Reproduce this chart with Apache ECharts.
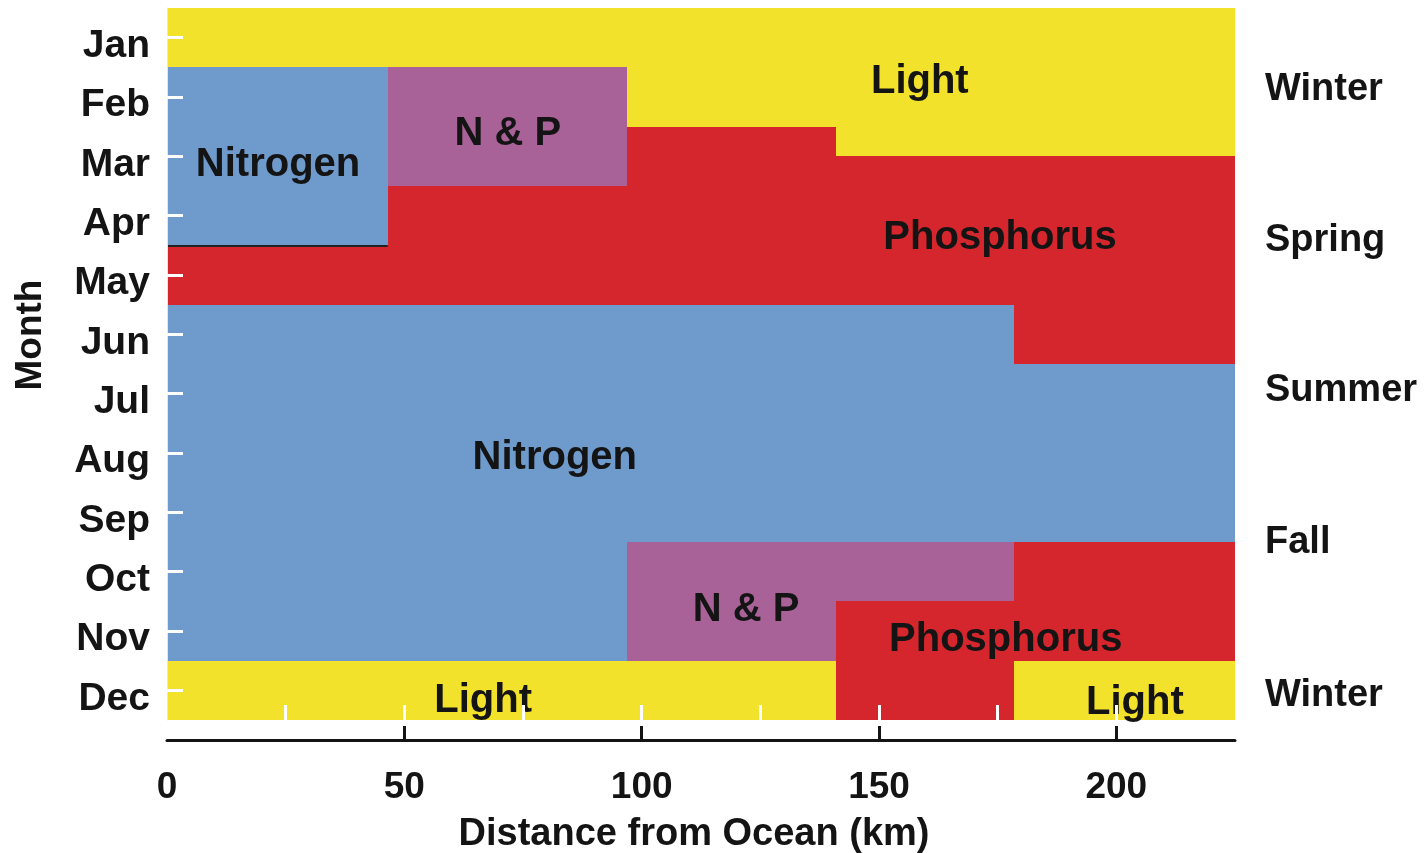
<!DOCTYPE html>
<html>
<head>
<meta charset="utf-8">
<script src="https://cdn.jsdelivr.net/npm/echarts@6/dist/echarts.min.js"></script>
<style>
html,body{margin:0;padding:0;background:#fff;}
#chart{width:1426px;height:853px;}
</style>
</head>
<body>
<div id="chart"></div>
<script>
// ---- data ----
const months = ['Jan','Feb','Mar','Apr','May','Jun','Jul','Aug','Sep','Oct','Nov','Dec'];
const xLabelTicks = [0, 50, 100, 150, 200];
const xMajorTicks = [50, 100, 150, 200];
const xInnerTicks = [25, 50, 75, 100, 125, 150, 175, 200];
const xMax = 225;

// blocks: [distance start km, distance end km, month start, month end] (months counted from start of Jan = 0)
const lightBlocks = [[0, 97, 0, 1], [97, 141, 0, 2], [141, 225, 0, 2.5], [0, 141, 11, 12], [178.5, 225, 11, 12]];
const nitrogenBlocks = [[0, 46.5, 1, 4], [0, 97, 5, 11], [97, 178.5, 5, 9], [178.5, 225, 6, 9]];
const npBlocks = [[46.5, 97, 1, 3], [97, 141, 9, 11], [141, 178.5, 9, 10]];
const phosphorusBlocks = [[0, 46.5, 4, 5], [46.5, 97, 3, 5], [97, 141, 2, 5], [141, 178.5, 2.5, 5],
  [178.5, 225, 2.5, 6], [141, 178.5, 10, 12], [178.5, 225, 9, 11]];
// dark edge under the early-spring nitrogen block: [start km, end km, month]
const nitrogenEdge = [0, 46.5, 4];

const regionNames = ['Light', 'Nitrogen', 'N & P', 'Phosphorus', 'Nitrogen', 'N & P', 'Phosphorus', 'Light', 'Light'];
const regionX = [158.6, 23.4, 71.8, 175.5, 81.7, 122, 176.7, 66.6, 203.9];
const regionY = [1.25, 2.64, 2.12, 3.87, 7.58, 10.15, 10.65, 11.68, 11.71];

const seasons = ['Winter', 'Spring', 'Summer', 'Fall', 'Winter'];
const seasonY = [1.37, 3.92, 6.44, 9.01, 11.59];

// ---- styles ----
const FONT = '"Liberation Sans", Arial, Helvetica, sans-serif';
const INK = '#141414';
const colors = {light: '#F2E22B', nitrogen: '#6F9ACC', np: '#A86298', phosphorus: '#D6262D'};

function renderBlock(params, api) {
  const p0 = api.coord([api.value(0), api.value(2)]);
  const p1 = api.coord([api.value(1), api.value(3)]);
  const x0 = Math.round(p0[0]), y0 = Math.round(p0[1]);
  const x1 = Math.round(p1[0]), y1 = Math.round(p1[1]);
  return {
    type: 'rect',
    shape: {x: x0, y: y0, width: x1 - x0, height: y1 - y0},
    style: {fill: api.visual('color')}
  };
}
function blockSeries(name, data, color) {
  return {
    type: 'custom', name: name, renderItem: renderBlock, data: data,
    xAxisIndex: 0, yAxisIndex: 0, itemStyle: {color: color, opacity: 1},
    encode: {x: [0, 1], y: [2, 3]}, silent: true, z: 2
  };
}
const nitrogen = blockSeries('Nitrogen', nitrogenBlocks, colors.nitrogen);
nitrogen.markLine = {
  silent: true, symbol: ['none', 'none'], animation: false,
  label: {show: false},
  lineStyle: {color: '#222222', width: 2, type: 'solid'},
  data: [[{coord: [nitrogenEdge[0], nitrogenEdge[2]]}, {coord: [nitrogenEdge[1], nitrogenEdge[2]]}]]
};

const chart = echarts.init(document.getElementById('chart'), null, {renderer: 'canvas'});
chart.setOption({
  animation: false,
  backgroundColor: '#ffffff',
  grid: {left: 167, top: 8, width: 1068, height: 712, containLabel: false, outerBoundsMode: 'none'},
  xAxis: [
    {
      type: 'value', min: 0, max: xMax, position: 'bottom', z: 10,
      splitLine: {show: false},
      axisLine: {show: false, onZero: false},
      axisTick: {show: true, inside: true, length: 15, customValues: xInnerTicks,
        lineStyle: {color: '#ffffff', width: 3}},
      axisLabel: {show: false}
    },
    {
      type: 'value', min: 0, max: xMax, position: 'bottom', offset: 20, z: 10,
      splitLine: {show: false},
      axisLine: {show: true, onZero: false, lineStyle: {color: INK, width: 3}},
      axisTick: {show: true, inside: true, length: 14, customValues: xMajorTicks,
        lineStyle: {color: INK, width: 3}},
      axisLabel: {show: true, customValues: xLabelTicks, margin: 29,
        color: INK, fontFamily: FONT, fontWeight: 'bold', fontSize: 37},
      name: 'Distance from Ocean (km)', nameLocation: 'middle', nameGap: 76,
      nameTextStyle: {color: INK, fontFamily: FONT, fontWeight: 'bold', fontSize: 38, padding: [0, 14, 0, 0]}
    }
  ],
  yAxis: [
    {
      type: 'value', min: 0, max: 12, inverse: true, show: false
    },
    {
      type: 'category', data: months, inverse: true, position: 'left', boundaryGap: true, z: 10,
      axisLine: {show: true, onZero: false, lineStyle: {color: '#e6e6e6', width: 1}},
      axisTick: {show: true, inside: true, alignWithLabel: true, length: 16,
        lineStyle: {color: '#ffffff', width: 3}},
      axisLabel: {show: true, margin: 17, verticalAlign: 'top', lineHeight: 17, color: INK, fontFamily: FONT,
        fontWeight: 'bold', fontSize: 39},
      splitLine: {show: false}
    }
  ],
  series: [
    blockSeries('Light', lightBlocks, colors.light),
    nitrogen,
    blockSeries('N & P', npBlocks, colors.np),
    blockSeries('Phosphorus', phosphorusBlocks, colors.phosphorus),
    {
      type: 'scatter', xAxisIndex: 0, yAxisIndex: 0, symbolSize: 0, silent: true, z: 5, clip: false,
      itemStyle: {opacity: 1},
      data: regionNames.map((n, i) => ({value: [regionX[i], regionY[i]], name: n})),
      label: {show: true, position: 'inside', formatter: p => p.name, opacity: 1,
        color: INK, fontFamily: FONT, fontWeight: 'bold', fontSize: 40}
    },
    {
      type: 'scatter', xAxisIndex: 0, yAxisIndex: 0, symbolSize: 0, silent: true, z: 5, clip: false,
      itemStyle: {opacity: 1},
      data: seasons.map((n, i) => ({value: [xMax, seasonY[i]], name: n})),
      label: {show: true, position: 'right', distance: 30, formatter: p => p.name, opacity: 1,
        color: INK, fontFamily: FONT, fontWeight: 'bold', fontSize: 38}
    }
  ],
  graphic: [
    {type: 'text', x: 31, y: 335, rotation: Math.PI / 2,
      style: {text: 'Month', align: 'center', verticalAlign: 'middle', fill: INK,
        font: 'bold 37px ' + FONT}}
  ]
});
</script>
</body>
</html>
